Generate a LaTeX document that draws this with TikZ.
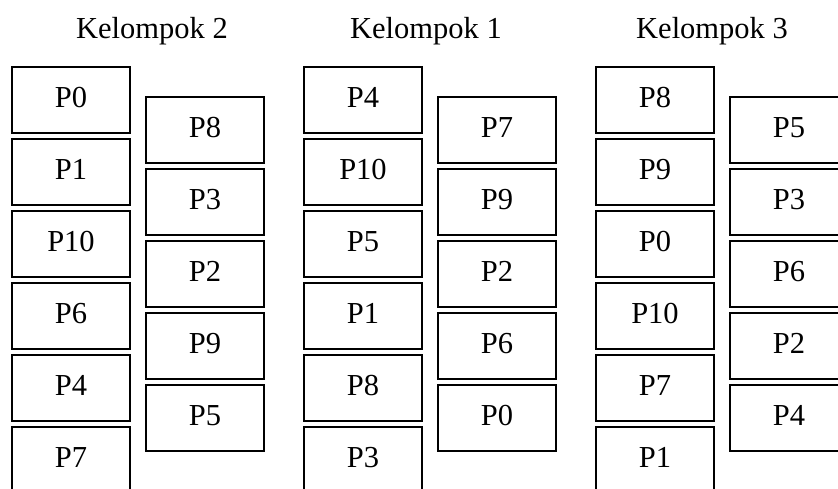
\documentclass[tikz,border=0pt]{standalone}
\usepackage{fontspec}
\setmainfont{Liberation Serif}
\begin{document}
\begin{tikzpicture}[x=1pt,y=-1pt,
  pbox/.style={draw=black, line width=1.3pt, minimum width=118pt, minimum height=66pt,
    inner sep=0pt, text height=21pt, text depth=7pt, font=\fontsize{30.5}{34}\selectfont},
  ttl/.style={anchor=base, inner sep=0pt, font=\fontsize{30.5}{34}\selectfont}]
\useasboundingbox (0,0) rectangle (838,488);
\clip (0,0) rectangle (838,488);
% titles
\node[ttl] (t2) at (152,38) {Kelompok 2};
\node[ttl] (t1) at (426,38) {Kelompok 1};
\node[ttl] (t3) at (712,38) {Kelompok 3};
% group columns
\foreach \g/\L/\R in {0/{P0,P1,P10,P6,P4,P7}/{P8,P3,P2,P9,P5},
                       1/{P4,P10,P5,P1,P8,P3}/{P7,P9,P2,P6,P0},
                       2/{P8,P9,P0,P10,P7,P1}/{P5,P3,P6,P2,P4}}{
  \foreach \t [count=\i from 0] in \L {
    \node[pbox] (l\g-\i) at ({71+292*\g},{100+72*\i}) {\t};
  }
  \foreach \t [count=\i from 0] in \R {
    \node[pbox] (r\g-\i) at ({205+292*\g},{130+72*\i}) {\t};
  }
}
\end{tikzpicture}
\end{document}
